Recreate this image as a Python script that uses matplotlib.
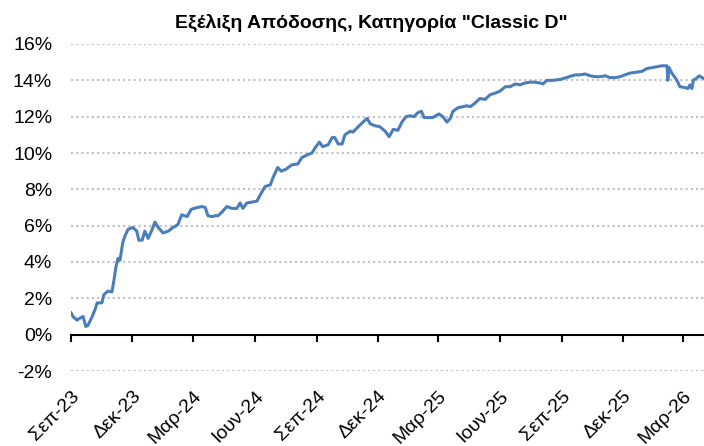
import numpy as np
import pandas as pd
import matplotlib
matplotlib.use('Agg')
import matplotlib.pyplot as plt
from matplotlib.ticker import FuncFormatter

plt.rcParams['font.family'] = ['Liberation Sans', 'DejaVu Sans']

# Données : jours depuis le 1er sept. 2023 et rendement (%)
start = pd.Timestamp('2023-09-01')
jours = [0, 3, 9, 13, 18, 22, 25, 31, 36, 39, 46, 49, 55, 61, 64, 67, 70, 73, 77, 80,
         85, 92, 98, 101, 106, 110, 115, 121, 125, 130, 137, 145, 152, 159, 165, 173, 179, 188, 195, 200,
         204, 210, 215, 219, 225, 232, 240, 247, 252, 256, 262, 270, 277, 282, 289, 297, 301, 308, 313, 320,
         329, 338, 344, 352, 359, 364, 370, 375, 383, 389, 393, 398, 404, 408, 416, 420, 428, 435, 441, 446,
         453, 460, 468, 474, 480, 487, 493, 499, 505, 511, 516, 522, 526, 532, 539, 548, 554, 560, 565, 569,
         577, 584, 590, 595, 602, 609, 617, 624, 632, 639, 647, 654, 662, 669, 676, 684, 691, 699, 703, 709,
         718, 729, 738, 743, 751, 758, 766, 773, 781, 788, 796, 803, 811, 818, 825, 833, 843, 851, 858, 866,
         873, 880, 888, 889, 891, 895, 900, 904, 907, 915, 919, 922, 925, 927, 933, 936, 940, 943]
rendement = [1.2, 1.0, 0.8, 0.9, 1.0, 0.45, 0.5, 0.95, 1.4, 1.75, 1.75, 2.2, 2.4, 2.35, 3.0, 3.75, 4.2, 4.1, 5.05, 5.4,
             5.8, 5.9, 5.7, 5.2, 5.2, 5.7, 5.3, 5.8, 6.2, 5.9, 5.6, 5.7, 5.9, 6.05, 6.6, 6.5, 6.9, 7.0, 7.05, 7.0,
             6.55, 6.5, 6.55, 6.55, 6.75, 7.05, 6.95, 6.95, 7.25, 6.95, 7.25, 7.3, 7.35, 7.7, 8.15, 8.25, 8.65, 9.2, 9.0, 9.1,
             9.35, 9.4, 9.75, 9.9, 10.0, 10.3, 10.6, 10.35, 10.45, 10.85, 10.85, 10.5, 10.5, 11.0, 11.2, 11.15, 11.45, 11.7, 11.9, 11.6,
             11.5, 11.45, 11.2, 10.9, 11.3, 11.25, 11.7, 12.0, 12.05, 12.0, 12.2, 12.3, 11.95, 11.95, 11.95, 12.15, 12.0, 11.7, 11.9, 12.3,
             12.5, 12.55, 12.6, 12.55, 12.75, 13.0, 12.95, 13.2, 13.3, 13.4, 13.65, 13.65, 13.8, 13.75, 13.85, 13.9, 13.9, 13.85, 13.8, 14.0,
             14.0, 14.05, 14.15, 14.2, 14.3, 14.3, 14.35, 14.25, 14.2, 14.2, 14.25, 14.15, 14.15, 14.2, 14.3, 14.4, 14.45, 14.5, 14.65, 14.7,
             14.75, 14.8, 14.8, 14.0, 14.7, 14.4, 14.15, 13.9, 13.65, 13.6, 13.55, 13.75, 13.55, 14.0, 14.15, 14.25, 14.15, 14.1]

tick_dates = ['2023-09-01', '2023-12-01', '2024-03-01', '2024-06-01', '2024-09-01', '2024-12-01',
              '2025-03-01', '2025-06-01', '2025-09-01', '2025-12-01', '2026-03-01']
tick_labels = ['Σεπ-23', 'Δεκ-23', 'Μαρ-24', 'Ιουν-24', 'Σεπ-24', 'Δεκ-24',
               'Μαρ-25', 'Ιουν-25', 'Σεπ-25', 'Δεκ-25', 'Μαρ-26']
yticks = [-2, 0, 2, 4, 6, 8, 10, 12, 14, 16]

dates = start + pd.to_timedelta(jours, unit='D')
ticks = pd.to_datetime(tick_dates)

fig = plt.figure(figsize=(7.04, 4.46), dpi=100)
ax = fig.add_axes([71 / 704, 1 - 371 / 446, 1 - 71 / 704, (371 - 44) / 446])

ax.plot(dates, rendement, color='#4a7ebb', lw=2.2, zorder=3)

ax.set_ylim(-2, 16)
ax.set_xlim(start, pd.Timestamp('2026-04-01'))
ax.set_yticks(yticks)
ax.yaxis.set_major_formatter(FuncFormatter(lambda v, p: f'{v:.0f}%'))
ax.tick_params(axis='y', length=0, pad=13.5, labelsize=14)
for v in yticks:
    if v != 0:
        ax.axhline(v, color='#c0c0c0', lw=1.5, ls=(0, (1, 1.5)), zorder=1)

for s in ['left', 'right', 'top']:
    ax.spines[s].set_visible(False)
ax.spines['bottom'].set_position(('data', 0))
ax.spines['bottom'].set_linewidth(1.5)
ax.spines['bottom'].set_zorder(4)
ax.set_xticks(ticks)
ax.set_xticklabels([])
ax.tick_params(axis='x', direction='out', length=5, width=1.5)

# Étiquettes de l'axe x en bas, sous -2%
ax2 = ax.twiny()
ax2.set_xlim(ax.get_xlim())
ax2.xaxis.set_ticks_position('bottom')
ax2.xaxis.set_label_position('bottom')
for s in ax2.spines.values():
    s.set_visible(False)
ax2.set_xticks(ticks)
ax2.set_xticklabels(tick_labels, rotation=45, ha='right', va='top', rotation_mode='anchor', fontsize=14)
ax2.tick_params(axis='x', length=0, pad=12)

fig.text(0.528, 0.948, 'Εξέλιξη Απόδοσης, Κατηγορία "Classic D"', ha='center', va='center',
         fontsize=14, fontweight='bold')

fig.savefig('out.png', dpi=100)
